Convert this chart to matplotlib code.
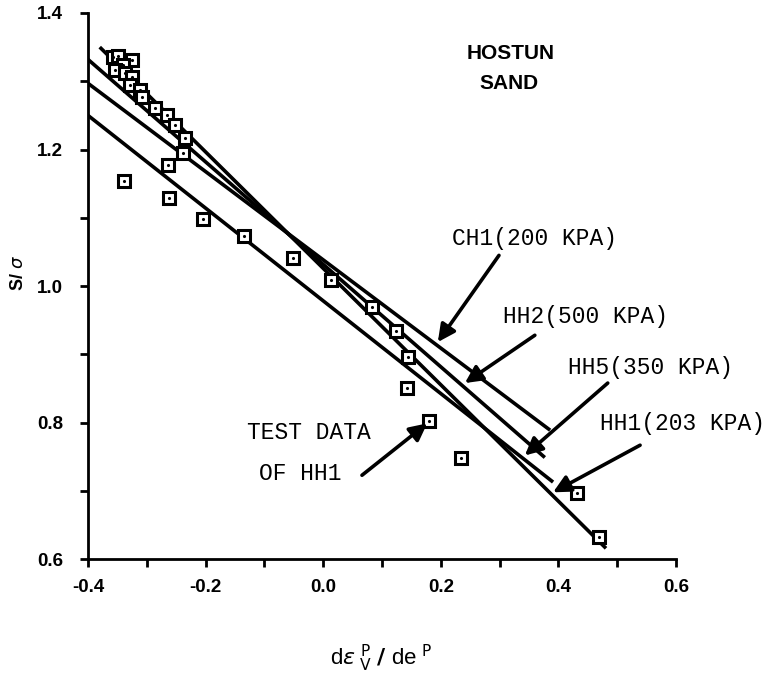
import matplotlib
matplotlib.use('Agg')
import matplotlib.pyplot as plt
from matplotlib.ticker import MultipleLocator

plt.rcParams['font.family'] = 'Liberation Sans'
plt.rcParams['mathtext.fontset'] = 'dejavusans'

# test data of HH1 (d eps_v^p / de^p , S/sigma)
test_x = [-0.357, -0.349, -0.325, -0.340, -0.354, -0.337, -0.325, -0.329, -0.312, -0.308,
          -0.286, -0.266, -0.252, -0.235, -0.238, -0.264, -0.339, -0.262, -0.204, -0.135,
          -0.051, 0.013, 0.083, 0.124, 0.144, 0.143, 0.180, 0.234, 0.432, 0.469]
test_y = [1.336, 1.337, 1.331, 1.324, 1.316, 1.312, 1.306, 1.295, 1.287, 1.277,
          1.261, 1.251, 1.236, 1.217, 1.195, 1.177, 1.154, 1.129, 1.098, 1.073,
          1.041, 1.009, 0.969, 0.934, 0.896, 0.851, 0.802, 0.748, 0.697, 0.632]

# model lines (start / end points)
line_x0 = [-0.38, -0.40, -0.40, -0.40]
line_y0 = [1.350, 1.332, 1.297, 1.250]
line_x1 = [0.481, 0.377, 0.386, 0.391]
line_y1 = [0.616, 0.749, 0.789, 0.713]

# labels with arrows
labels = ['CH1(200 KPA)', 'HH2(500 KPA)', 'HH5(350 KPA)', 'HH1(203 KPA)']
label_pos = [(0.219, 1.069), (0.306, 0.956), (0.416, 0.881), (0.471, 0.799)]
arrow_tail = [(0.299, 1.045), (0.360, 0.928), (0.484, 0.858), (0.539, 0.767)]
arrow_tip = [(0.195, 0.918), (0.241, 0.858), (0.343, 0.752), (0.391, 0.698)]

# tick labels
xticks = [-0.4, -0.2, 0.0, 0.2, 0.4, 0.6]
xtick_labels = ['-0.4', '-0.2', '0.0', '0.2', '0.4', '0.6']
yticks = [0.6, 0.8, 1.0, 1.2, 1.4]
ytick_labels = ['0.6', '0.8', '1.0', '1.2', '1.4']

fig = plt.figure(figsize=(7.69, 6.82), dpi=100)
ax = fig.add_axes([0.1144, 0.180, 0.7646, 0.801])

for i in range(len(line_x0)):
    ax.plot([line_x0[i], line_x1[i]], [line_y0[i], line_y1[i]], color='k', lw=2.6,
            solid_capstyle='butt', zorder=2)

ax.plot(test_x, test_y, 's', ms=8, mfc='white', mec='k', mew=2.2, zorder=3)
ax.plot(test_x, test_y, '.', ms=2.5, color='k', zorder=4)

arrow_style = dict(arrowstyle='-|>', color='k', lw=2.6, mutation_scale=26, shrinkA=0, shrinkB=0)
for i in range(len(labels)):
    ax.annotate('', xy=arrow_tip[i], xytext=arrow_tail[i], arrowprops=arrow_style)
    ax.text(label_pos[i][0], label_pos[i][1], labels[i], family='Liberation Mono',
            fontsize=16.5, ha='left', va='center')

ax.text(-0.024, 0.785, 'TEST DATA', family='Liberation Mono', fontsize=16.5, ha='center', va='center')
ax.text(-0.039, 0.726, 'OF HH1', family='Liberation Mono', fontsize=16.5, ha='center', va='center')
ax.annotate('', xy=(0.177, 0.799), xytext=(0.066, 0.723), arrowprops=arrow_style)

ax.text(0.318, 1.341, 'HOSTUN', fontsize=15, fontweight='bold', ha='center', va='center')
ax.text(0.316, 1.297, 'SAND', fontsize=15, fontweight='bold', ha='center', va='center')

ax.set_xlim(-0.4, 0.6)
ax.set_ylim(0.6, 1.4)
ax.set_xticks(xticks, xtick_labels, fontsize=13.5, fontweight='bold')
ax.set_yticks(yticks, ytick_labels, fontsize=13.5, fontweight='bold')
ax.xaxis.set_minor_locator(MultipleLocator(0.1))
ax.yaxis.set_minor_locator(MultipleLocator(0.1))
ax.tick_params(which='both', direction='out', width=2, length=6)
ax.tick_params(axis='x', pad=8)
ax.tick_params(axis='y', pad=12)
ax.spines['top'].set_visible(False)
ax.spines['right'].set_visible(False)
ax.spines['left'].set_linewidth(2)
ax.spines['bottom'].set_linewidth(2)

fig.text(0.024, 0.6, r'S/ $\sigma$', rotation=90, fontsize=13, fontweight='bold',
         ha='center', va='center')
fig.text(0.495, 0.035, r'd$\varepsilon_{\ \mathrm{V}}^{\ \mathrm{P}}$ $\mathbf{/}$ de$^{\ \mathrm{P}}$',
         fontsize=16, ha='center', va='center')

plt.savefig('out.png', dpi=100)
